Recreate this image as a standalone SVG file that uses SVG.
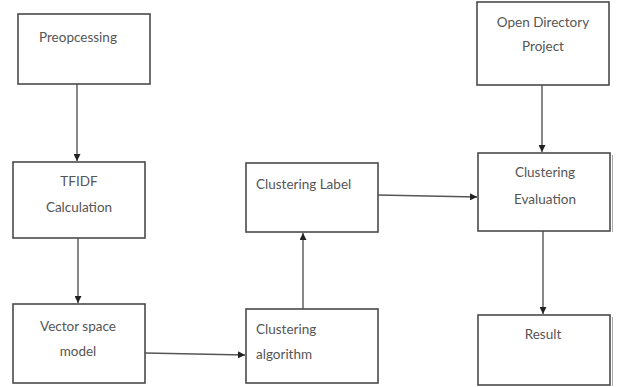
<svg xmlns="http://www.w3.org/2000/svg" width="621" height="387" viewBox="0 0 621 387">
<style>
.box{fill:#fff;stroke:#4a4a4a;stroke-width:1.6}
.t{font-family:Lato,"Open Sans",sans-serif;font-size:13.5px;fill:#555}
.c{text-anchor:middle}
.ln{stroke:#555;stroke-width:1.4;fill:none;marker-end:url(#ah)}
</style>
<defs>
<marker id="ah" viewBox="0 0 10 10" refX="10" refY="5" markerWidth="7" markerHeight="7" markerUnits="userSpaceOnUse" orient="auto">
<path d="M0,0 L10,5 L0,10 z" fill="#222"/>
</marker>
</defs>
<g id="connectors">
<line class="ln" x1="77" y1="84" x2="77" y2="161"/>
<line class="ln" x1="78" y1="238" x2="78" y2="303"/>
<line class="ln" x1="145" y1="353" x2="245" y2="355"/>
<line class="ln" x1="303" y1="309" x2="303" y2="233"/>
<line class="ln" x1="378" y1="195" x2="477" y2="197"/>
<line class="ln" x1="542" y1="85" x2="542" y2="152"/>
<line class="ln" x1="543" y1="231" x2="543" y2="314"/>
</g>
<g id="preprocessing">
<rect class="box" x="18" y="14" width="132" height="70"/>
<text class="t" x="39" y="42">Preopcessing</text>
</g>
<g id="tfidf">
<rect class="box" x="13" y="162" width="132" height="76"/>
<text class="t c" x="79" y="186">TFIDF</text>
<text class="t c" x="79" y="212">Calculation</text>
</g>
<g id="vsm">
<rect class="box" x="13" y="304" width="132" height="79"/>
<text class="t c" x="78" y="331">Vector space</text>
<text class="t c" x="78" y="356">model</text>
</g>
<g id="algorithm">
<rect class="box" x="246" y="309" width="132" height="74"/>
<text class="t" x="256" y="334">Clustering</text>
<text class="t" x="256" y="359">algorithm</text>
</g>
<g id="label">
<rect class="box" x="246" y="163" width="132" height="69"/>
<text class="t" x="256" y="189">Clustering Label</text>
</g>
<g id="odp">
<rect class="box" x="477" y="2" width="132" height="83"/>
<text class="t c" x="543" y="27">Open Directory</text>
<text class="t c" x="543" y="51">Project</text>
</g>
<g id="evaluation">
<rect class="box" x="478" y="153" width="132" height="78"/>
<line x1="612.5" y1="155" x2="612.5" y2="232" stroke="#aaa" stroke-width="1"/>
<text class="t c" x="545" y="177">Clustering</text>
<text class="t c" x="545" y="204">Evaluation</text>
</g>
<g id="result">
<rect class="box" x="478" y="315" width="132" height="70"/>
<line x1="612.5" y1="317" x2="612.5" y2="386" stroke="#aaa" stroke-width="1"/>
<text class="t c" x="543" y="339">Result</text>
</g>
</svg>
